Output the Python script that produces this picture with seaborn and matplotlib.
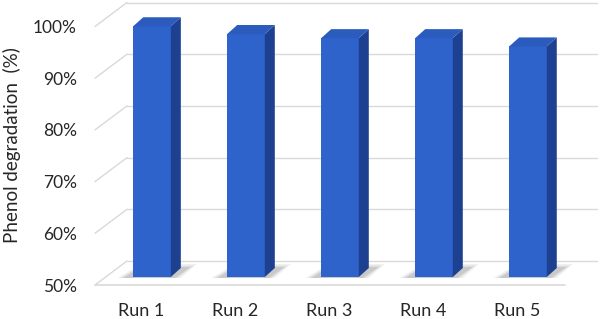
import matplotlib
matplotlib.use("Agg")
import matplotlib.pyplot as plt
import seaborn as sns
import pandas as pd
from matplotlib.patches import Polygon

# data
runs = ["Run 1", "Run 2", "Run 3", "Run 4", "Run 5"]
degradation = [98.5, 97.0, 96.2, 96.2, 94.6]
yticks = [50, 60, 70, 80, 90, 100]
ytick_labels = ["50%", "60%", "70%", "80%", "90%", "100%"]

FRONT = "#2E63CC"
TOP = "#2A5BBD"
SIDE = "#1D4190"
GRID = "#d9d9d9"

sns.set_theme(style="white")
plt.rcParams["font.family"] = ["Lato", "DejaVu Sans"]

fig = plt.figure(figsize=(6, 3.19), dpi=100)
ax = fig.add_axes([95 / 600, 34 / 319, 502 / 600, 285 / 319])

df = pd.DataFrame({"run": runs, "deg": degradation})
sns.barplot(data=df, x="run", y="deg", color=FRONT, width=0.40,
            saturation=1, ax=ax, zorder=4)

xl, xr = -0.495, 4.846
yb, yt = 50, 50 + 285 / 5.17
ax.set_xlim(xl, xr)
ax.set_ylim(yb, yt)

# pixels per data unit
px_x = 502 / (xr - xl)
px_y = 285 / (yt - yb)


def sh(x, y, dx, dy):
    return (x + dx / px_x, y + dy / px_y)


# perspective: floor depth and bar plane depth (pixels)
FD = (32, 24)
BP = (10.5, 8)
BD = (10, 9)

# back wall grid lines + left diagonals
for v in yticks:
    bx, by = sh(xl, v, *FD)
    ax.plot([xl, bx], [v, by], color=GRID, lw=1, zorder=1, clip_on=False)
    ax.plot([bx, xr], [by, by], color=GRID, lw=1, zorder=1, clip_on=False)
# floor front edge
ax.plot([xl, xl + 470 / px_x], [50, 50], color=GRID, lw=1.2, zorder=1, clip_on=False)

# turn flat bars into 3D columns
for p in list(ax.patches):
    h = p.get_height()
    x0 = p.get_x()
    w = p.get_width()
    bx0, by0 = sh(x0, 50, *BP)
    bx1 = bx0 + w
    p.set_xy((bx0, by0))
    p.set_height(h - 50)
    p.set_edgecolor("none")
    p.set_clip_on(False)
    top = by0 + (h - 50)
    # soft shadow on the floor
    for k, a in [(6, 0.12), (3, 0.18), (0, 0.25)]:
        shadow = [sh(bx0, by0, -10 - k, -1),
                  sh(bx1, by0, 4 + k, -1),
                  sh(bx1, by0, 20 + k, 10 + k / 2),
                  sh(bx0, by0, 8, 10 + k / 2)]
        ax.add_patch(Polygon(shadow, closed=True, color="#8c8c8c", alpha=a,
                             lw=0, zorder=2, clip_on=False))
    side = [(bx1, by0), (bx1, top), sh(bx1, top, *BD), sh(bx1, by0, *BD)]
    ax.add_patch(Polygon(side, closed=True, facecolor=SIDE, lw=0,
                         zorder=4, clip_on=False))
    cap = [(bx0, top), (bx1, top), sh(bx1, top, *BD), sh(bx0, top, *BD)]
    ax.add_patch(Polygon(cap, closed=True, facecolor=TOP, lw=0,
                         zorder=5, clip_on=False))

ax.set_yticks(yticks, ytick_labels)
ax.tick_params(axis="y", length=0, pad=13, labelsize=12.5, labelcolor="#262626")
ax.tick_params(axis="x", length=0, pad=13, labelsize=13, labelcolor="#262626")
ax.set_xlabel("")
ax.set_ylabel("")
for s in ax.spines.values():
    s.set_visible(False)
ax.grid(False)

fig.text(12 / 600, 1 - 145 / 319, "Phenol degradation  (%)", rotation=90,
         ha="center", va="center", fontsize=13.5, color="#262626")

fig.savefig("out.png", dpi=100)
